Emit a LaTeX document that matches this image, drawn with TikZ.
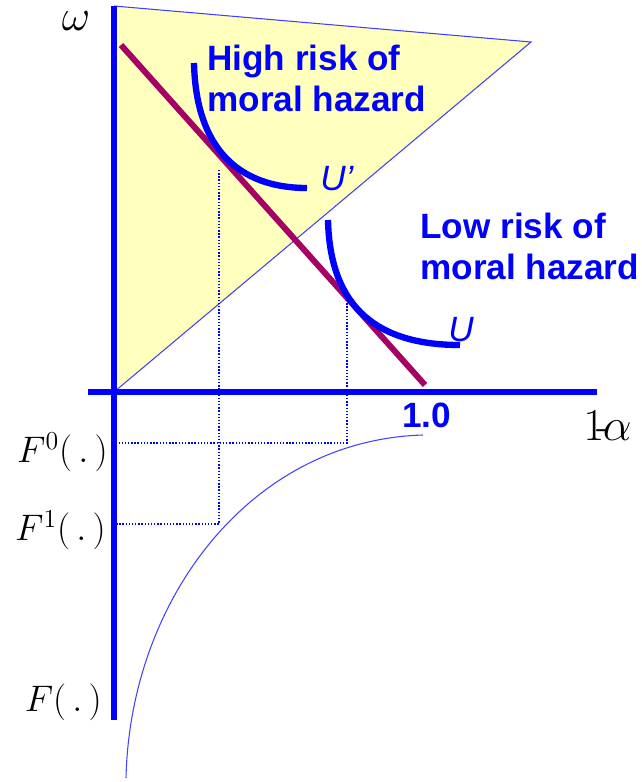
\documentclass[tikz,border=0pt]{standalone}
\usepackage{fix-cm}
\usepackage{amsmath}
\usepackage{fontspec}
\setsansfont{Liberation Sans}
\usepackage{tikz}

\definecolor{axisblue}{RGB}{0,0,255}
\definecolor{budget}{RGB}{165,0,100}
\definecolor{paleyellow}{RGB}{255,255,190}

\begin{document}
\begin{tikzpicture}[x=0.2mm,y=-0.2mm,
  axis/.style={line width=3.4pt, axisblue},
  edge/.style={line width=0.6pt, blue!75},
  indiff/.style={line width=3.6pt, axisblue},
  guide/.style={line width=0.8pt, axisblue, densely dotted},
  risklab/.style={font=\sffamily\bfseries\fontsize{20}{23}\selectfont, text=axisblue, align=left, inner sep=0pt},
  ulab/.style={font=\sffamily\itshape\fontsize{20}{23}\selectfont, text=axisblue, inner sep=0pt},
  mathlab/.style={font=\fontsize{21}{24}\selectfont, inner sep=0pt}]
\useasboundingbox (0,0) rectangle (641,782);

% Region above the 45 degree line
\coordinate (O) at (114,392);
\coordinate (top) at (114,6);
\coordinate (apex) at (531,42);
\fill[paleyellow] (O) -- (top) -- (apex) -- cycle;
\draw[edge] (top) -- (apex) -- (O);

% Dotted guides down to the distribution
\coordinate (tanHi) at (219,170);
\coordinate (tanLo) at (347,300);
\coordinate (fOne) at (117,524);
\coordinate (fZero) at (117,443);
\draw[guide] (tanHi) |- (fOne);
\draw[guide] (tanLo) |- (fZero);

% Budget line
\coordinate (bTop) at (121,45);
\coordinate (bEnd) at (425,385);
\draw[line width=3.4pt, budget] (bTop) -- (bEnd);

% Indifference curves
\draw[indiff] (194,63) .. controls (196,150) and (240,188) .. (307,188);
\draw[indiff] (328,220) .. controls (330,310) and (380,345) .. (460,345);

% Axes
\draw[axis] (top) -- (114,720);
\draw[axis] (88,392) -- (597,392);

% Distribution F
\draw[edge] (126,778) .. controls (130,600) and (250,440) .. (423,435);

% Labels
\node[risklab, anchor=north west] (high) at (207,45) {High risk of\\moral hazard};
\node[risklab, anchor=north west] (low) at (420,213) {Low risk of\\moral hazard};
\node[ulab, anchor=base west] (uHi) at (320,190) {U'};
\node[ulab, anchor=base west] (uLo) at (448,341) {U};
\node[font=\sffamily\bfseries\fontsize{20}{23}\selectfont, text=axisblue, inner sep=0pt, anchor=base west] (one) at (402,427) {1.0};
\node[font=\fontsize{25}{27}\selectfont, inner sep=0pt, anchor=base] (omega) at (76,31) {$\omega$};
\node[font=\fontsize{26}{28}\selectfont, inner sep=0pt, anchor=base west] (alpha) at (583,440) {$1\mkern-3mu\text{-}\mkern-3mu\alpha$};
\node[mathlab, anchor=east] (F0) at (108,452) {$F^0(\,.\,)$};
\node[mathlab, anchor=east] (F1) at (106,530) {$F^1(\,.\,)$};
\node[mathlab, anchor=east] (F) at (102,702) {$F(\,.\,)$};
\end{tikzpicture}
\end{document}
